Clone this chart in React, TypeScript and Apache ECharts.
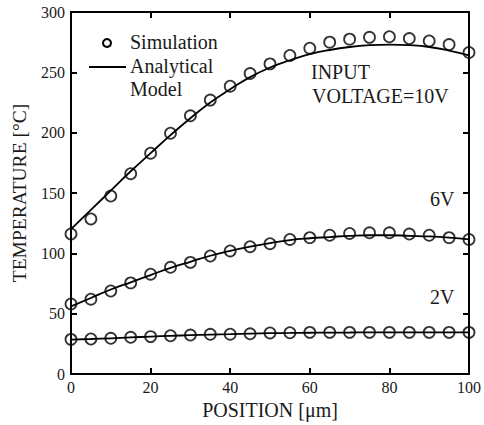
import React, { useEffect, useRef } from "react";
import * as echarts from "echarts";

// Position along the heater (µm), sampled every 5 µm
const positions = [0, 5, 10, 15, 20, 25, 30, 35, 40, 45, 50, 55, 60, 65, 70, 75, 80, 85, 90, 95, 100];

// Simulated temperatures (°C)
const sim10V = [116, 128.5, 147.5, 166, 183, 199.5, 214, 227, 238.5, 249, 257, 264, 270, 275, 277.5, 279, 279.5, 278, 276, 273, 266.5];
const sim6V = [58, 62, 68.8, 75.5, 82.7, 88.4, 92.5, 97.8, 102, 105.5, 108, 111.5, 113, 115, 116.5, 117, 117, 116, 115, 113, 111.5];
const sim2V = [28.7, 29, 29.6, 30.4, 31, 31.7, 32.3, 32.9, 33, 33.3, 34, 34.2, 34.5, 34.5, 34.5, 34.5, 34.5, 34.5, 34.5, 34.5, 34.5];

// Analytical model temperatures (°C)
const model10V = [120, 136, 152, 168, 183, 198, 212, 225, 236, 246, 254, 260, 265, 268.5, 271, 272.5, 273, 272.5, 271, 268, 264];
const model6V = [56, 63, 70, 76, 82, 88, 93, 98, 102, 105.5, 108.5, 111, 112.5, 113.5, 114.5, 115, 115, 114.5, 114, 113, 111.5];
const model2V = [28.5, 29, 29.6, 30.3, 31, 31.6, 32.2, 32.7, 33, 33.4, 33.8, 34, 34.2, 34.3, 34.4, 34.5, 34.5, 34.5, 34.5, 34.5, 34.5];

const FONT = "Liberation Serif, Times New Roman, serif";
const INK = "#000";
const TEXT = "#1a1a1a";

const pairs = (ys: number[]) => positions.map((x, i) => [x, ys[i]]);

const simSeries = (data: number[]) => ({
  type: "scatter",
  name: "Simulation",
  data: pairs(data),
  symbol: "circle",
  symbolSize: 11,
  itemStyle: { color: "rgba(0,0,0,0)", borderColor: INK, borderWidth: 1.8 },
  z: 3,
});

const modelSeries = (data: number[]) => ({
  type: "line",
  name: "Analytical Model",
  data: pairs(data),
  smooth: true,
  showSymbol: false,
  lineStyle: { color: INK, width: 1.8 },
  z: 2,
});

const baseAxis = {
  type: "value",
  axisLine: { show: true, onZero: false, lineStyle: { color: INK, width: 2 } },
  axisTick: { show: true, inside: true, length: 6, lineStyle: { color: INK, width: 2 } },
  splitLine: { show: false },
};

const label = (text: string, x: number, y: number) => ({
  type: "text",
  x,
  y,
  style: { text, fontFamily: FONT, fontSize: 20, fill: TEXT, verticalAlign: "middle" },
});

export default function App() {
  const ref = useRef<HTMLDivElement>(null);

  useEffect(() => {
    if (!ref.current) return;
    const chart = echarts.init(ref.current, undefined, { renderer: "svg" });
    chart.setOption({
      animation: false,
      backgroundColor: "#fff",
      textStyle: { fontFamily: FONT },
      grid: { left: 71, right: 12, top: 12, bottom: 51 },
      xAxis: [
        {
          ...baseAxis,
          position: "bottom",
          min: 0,
          max: 100,
          interval: 20,
          axisLabel: { color: TEXT, fontFamily: FONT, fontSize: 16, margin: 5 },
          name: "POSITION [μm]",
          nameLocation: "middle",
          nameGap: 24,
          nameTextStyle: { color: TEXT, fontFamily: FONT, fontSize: 20 },
        },
        {
          ...baseAxis,
          position: "top",
          min: 0,
          max: 100,
          interval: 20,
          axisLabel: { show: false },
        },
      ],
      yAxis: [
        {
          ...baseAxis,
          position: "left",
          min: 0,
          max: 300,
          interval: 50,
          axisLabel: { color: TEXT, fontFamily: FONT, fontSize: 16, margin: 6 },
          name: "TEMPERATURE [°C]",
          nameLocation: "middle",
          nameGap: 42,
          nameTextStyle: { color: TEXT, fontFamily: FONT, fontSize: 19.5 },
        },
        {
          ...baseAxis,
          position: "right",
          min: 0,
          max: 300,
          interval: 50,
          axisLabel: { show: false },
        },
      ],
      series: [
        modelSeries(model10V),
        modelSeries(model6V),
        modelSeries(model2V),
        simSeries(sim10V),
        simSeries(sim6V),
        simSeries(sim2V),
      ],
      graphic: [
        // legend
        { type: "circle", shape: { cx: 107, cy: 43, r: 4 }, style: { fill: "none", stroke: INK, lineWidth: 2 } },
        label("Simulation", 130, 42),
        { type: "line", shape: { x1: 89, y1: 67, x2: 126, y2: 67 }, style: { stroke: INK, lineWidth: 1.8 } },
        label("Analytical", 130, 66),
        label("Model", 130, 89),
        // curve annotations
        label("INPUT", 311, 72),
        label("VOLTAGE=10V", 312, 96),
        label("6V", 430, 199),
        label("2V", 430, 297),
      ],
    });
    return () => chart.dispose();
  }, []);

  return <div ref={ref} style={{ width: 484, height: 425, position: "absolute", left: 0, top: 0 }} />;
}
